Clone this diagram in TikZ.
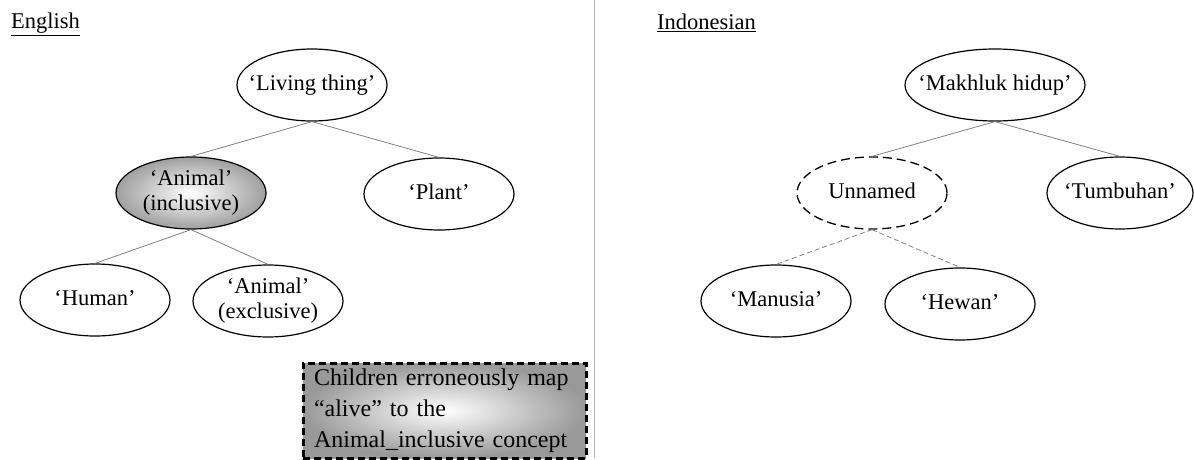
\documentclass[tikz,border=0pt]{standalone}
\usepackage{fontspec}
\setmainfont{Liberation Serif}
\usetikzlibrary{shapes,positioning}

\newcommand{\lbl}[1]{\makebox[0pt]{\begin{tabular}{@{}c@{}}#1\end{tabular}}}

\begin{document}
\begin{tikzpicture}[x=1pt,y=-1pt,
  concept/.style={ellipse,draw,line width=1.2pt,minimum width=150pt,minimum height=72pt,inner sep=0pt,font=\fontsize{22.5}{25}\selectfont},
  unnamed/.style={concept,dash pattern=on 9pt off 5pt,line width=1.3pt},
  grayfill/.style={shading=radial,inner color=white,outer color=gray!#1},
  link/.style={gray,line width=.8pt},
  dlink/.style={link,dash pattern=on 5pt off 3pt},
  heading/.style={anchor=base west,inner sep=0pt,font=\fontsize{22.5}{25}\selectfont},
  notebox/.style={draw,line width=3pt,dash pattern=on 7pt off 4pt,grayfill=80,minimum width=283pt,minimum height=95pt,text width=261pt,inner xsep=11pt,align=left,font=\fontsize{24}{31}\selectfont}]
  \useasboundingbox (0,0) rectangle (1194,460);

  % English
  \node[heading] (en) at (11,29) {\underline{English}};
  \node[concept] (living) at (312,85) {\lbl{‘Living thing’}};
  \node[concept,grayfill=75] (animalinc) at (191,193) {\lbl{‘Animal’\\(inclusive)}};
  \node[concept] (plant) at (439,194) {\lbl{‘Plant’}};
  \node[concept] (human) at (95,300) {\lbl{‘Human’}};
  \node[concept] (animalexc) at (268,301) {\lbl{‘Animal’\\(exclusive)}};
  \node[notebox] (note) at (444.5,410.5) {Children erroneously map\\“alive” to the\\Animal\_inclusive concept};
  \draw[link] (living.south) -- (animalinc.north);
  \draw[link] (living.south) -- (plant.north);
  \draw[link] (animalinc.south) -- (human.north);
  \draw[link] (animalinc.south) -- (animalexc.north);

  \draw[gray!60,line width=1pt] (594,0) -- (594,458);

  % Indonesian
  \node[heading] (id) at (657,30) {\underline{Indonesian}};
  \node[concept,minimum width=180pt] (makhluk) at (995,85) {\lbl{‘Makhluk hidup’}};
  \node[unnamed] (unnamed) at (872,193) {\lbl{Unnamed}};
  \node[concept,minimum width=146pt] (tumbuhan) at (1120,193) {\lbl{‘Tumbuhan’}};
  \node[concept] (manusia) at (776,301) {\lbl{‘Manusia’}};
  \node[concept] (hewan) at (960,304) {\lbl{‘Hewan’}};
  \draw[link] (makhluk.south) -- (unnamed.north);
  \draw[link] (makhluk.south) -- (tumbuhan.north);
  \draw[dlink] (unnamed.south) -- (manusia.north);
  \draw[dlink] (unnamed.south) -- (hewan.north);
\end{tikzpicture}
\end{document}
